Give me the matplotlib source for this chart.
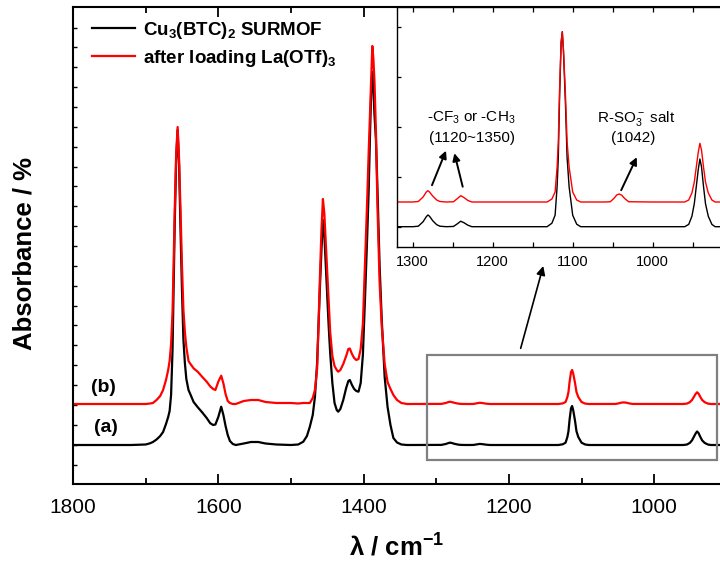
import numpy as np
import matplotlib
matplotlib.use("Agg")
import matplotlib.pyplot as plt
from matplotlib.patches import Rectangle
from matplotlib.ticker import MultipleLocator, FixedLocator, NullFormatter

plt.rcParams['font.family'] = ['Liberation Sans', 'DejaVu Sans']
plt.rcParams['mathtext.fontset'] = 'custom'
plt.rcParams['mathtext.rm'] = 'Liberation Sans'
plt.rcParams['mathtext.it'] = 'Liberation Sans:italic'
plt.rcParams['mathtext.bf'] = 'Liberation Sans:bold'

# ---------------- data ----------------
wavenumber = [
    1800, 1760, 1720, 1700, 1694, 1690, 1685, 1680, 1676, 1672,
    1669, 1667, 1665, 1663, 1661.5, 1660, 1658, 1656, 1654, 1652,
    1650, 1648, 1646, 1644, 1641, 1639, 1634, 1628, 1622, 1616,
    1611, 1607, 1604, 1600, 1596, 1593, 1590, 1587, 1584, 1580,
    1576, 1565, 1555, 1545, 1535, 1520, 1500, 1490, 1483, 1478,
    1474, 1470, 1467, 1464, 1462, 1460, 1458, 1456, 1454, 1452,
    1450, 1448, 1446, 1443, 1440, 1437, 1435, 1432, 1428, 1424,
    1421, 1419, 1416, 1413, 1410, 1407, 1404, 1401, 1398, 1395,
    1393, 1391, 1389.5, 1388, 1386.5, 1385, 1383, 1381, 1378, 1375,
    1371, 1367, 1363, 1359, 1354, 1348, 1340, 1320, 1300, 1293,
    1287, 1283, 1281, 1279, 1275, 1270, 1266, 1258, 1249, 1244,
    1240, 1236, 1231, 1226, 1200, 1150, 1132, 1126, 1122, 1119.5,
    1118, 1116.5, 1114.5, 1113, 1111.5, 1109, 1107, 1104.5, 1100, 1095,
    1090, 1060, 1053, 1048, 1045, 1042, 1039, 1035, 1030, 1000,
    960, 955, 951, 948, 945.5, 943, 941, 939, 936.5, 934,
    930.5, 926, 922, 885]

absorb_surmof = [
    0, 0, 0, 0.5, 1.7, 3, 5.5, 9, 13, 21,
    28, 34, 50, 95, 155, 220, 285, 315, 280, 215,
    155, 105, 82, 66, 55, 51.7, 43, 37.5, 32.5, 27,
    21.7, 20, 20.5, 28, 38.3, 30, 19, 10, 4, 1,
    0, 1.5, 3, 3, 1.5, 0.5, 0, 0.5, 3.3, 9,
    18.3, 30, 48, 82, 122, 160, 195, 225, 210, 178,
    148, 118, 92, 62, 42, 35, 33.3, 36, 45, 57,
    64, 65, 60, 56, 54, 53.3, 62, 90, 148, 210,
    255, 315, 355, 373, 355, 330, 305, 258, 180, 125,
    68, 38, 20, 7, 2.5, 0.5, 0, 0, 0, 0.1,
    1.0, 2.0, 2.34, 2.1, 1.2, 0.4, 0.1, 0, 0.05, 0.6,
    1.1, 0.8, 0.3, 0, 0, 0, 0, 0.7, 2.3, 8.0,
    13.8, 25.2, 36.7, 39, 34.9, 24.3, 13.8, 8.0, 2.3, 0.5,
    0, 0, 0, 0, 0, 0, 0, 0, 0, 0,
    0, 0.46, 2.08, 4.6, 8.07, 11.5, 13.54, 12.0, 8.07, 4.6,
    2.08, 0.46, 0, 0]

absorb_loaded = [
    0, 0, 0, 0, 0.5, 1, 4, 8, 14, 24,
    34, 43, 60, 92, 140, 194, 250, 277, 245, 194,
    138, 94, 72, 57, 43, 40.7, 35.7, 32, 27, 22.3,
    17.5, 15, 14, 22.3, 28.3, 20.7, 10, 3, 1, 0,
    0, 3, 4, 4, 2, 1, 1, 0.5, 1, 1,
    1, 6, 14, 35, 80, 130, 174, 205, 190, 160,
    130, 100, 72, 48, 38, 34, 32.3, 34, 40, 48,
    55, 55.5, 50, 46, 44, 45, 55, 80, 141, 205,
    252, 295, 330, 358, 345, 322, 272, 200, 122, 78,
    40, 22, 15, 9, 4, 1, 0, 0, 0, 0.1,
    1.0, 2.0, 2.26, 2.0, 1.2, 0.4, 0.1, 0, 0.05, 0.7,
    1.26, 0.9, 0.3, 0, 0, 0, 0, 0.6, 2, 7,
    12, 22, 32, 34, 30.4, 21.2, 12, 7, 2, 0.4,
    0, 0, 0.05, 0.8, 1.4, 1.6, 1.4, 0.7, 0.05, 0,
    0, 0.4, 1.8, 4, 7, 10, 11.74, 10.4, 7, 4,
    1.8, 0.4, 0, 0]

series_labels = [r'Cu$_\mathbf{3}$(BTC)$_\mathbf{2}$ SURMOF',
                 r'after loading La(OTf)$_\mathbf{3}$']
curve_tags = ['(a)', '(b)']
main_xticks = [1800, 1600, 1400, 1200, 1000]
inset_xticks = [1300, 1200, 1100, 1000]

wn = np.array(wavenumber)
a_black = np.array(absorb_surmof)
a_red = np.array(absorb_loaded)

# ---------------- figure ----------------
W, H = 720, 567
fig = plt.figure(figsize=(W / 100, H / 100), dpi=100)

def fx(px):
    return px / W

def fy(py):
    return 1 - py / H

# main axes (right part cropped by figure edge)
ax_l, ax_r, ax_t, ax_b = 73, 740, 7, 484
ax = fig.add_axes([fx(ax_l), fy(ax_b), fx(ax_r - ax_l), (ax_b - ax_t) / H])
x_right = 1800 - (ax_r - ax_l) * (200 / 145.3)
ax.set_xlim(1800, x_right)
ax.set_ylim(0, 477)

off_black, off_red = 39, 80
ax.plot(wn, a_black + off_black, color='black', lw=1.6, label=series_labels[0])
ax.plot(wn, a_red + off_red, color='#ff0000', lw=1.6, label=series_labels[1])

for s in ax.spines.values():
    s.set_linewidth(1.5)
ax.spines['right'].set_visible(False)
ax.xaxis.set_major_locator(FixedLocator(main_xticks))
ax.xaxis.set_minor_locator(MultipleLocator(100))
ax.tick_params(axis='x', which='major', direction='in', length=7, width=1.3,
               top=True, labelsize=15, pad=10)
ax.tick_params(axis='x', which='minor', direction='in', length=4, width=1.3, top=True)
ax.set_yticks(np.arange(19.5, 470, 19.86))
ax.yaxis.set_major_formatter(NullFormatter())
ax.tick_params(axis='y', which='major', direction='in', length=3, width=1.0,
               left=True, right=False)

ax.text(1775, 96, curve_tags[1], fontsize=14, fontweight='bold', ha='left', va='center')
ax.text(1771, 56, curve_tags[0], fontsize=14, fontweight='bold', ha='left', va='center')

leg = ax.legend(loc='upper left', bbox_to_anchor=(fx(92), fy(20)),
                bbox_transform=fig.transFigure, frameon=False,
                prop={'size': 13.5, 'weight': 'bold'}, handlelength=2.3,
                handletextpad=0.4, labelspacing=0.36, borderpad=0,
                borderaxespad=0)
for ln in leg.get_lines():
    ln.set_linewidth(1.6)

# grey rectangle marking the zoomed region
ax.add_patch(Rectangle((1312.8, 24), 913.6 - 1312.8, 105, fill=False,
                       edgecolor='#808080', lw=1.6, zorder=5))
ax.annotate('', xy=(1152.7, 218), xytext=(1183.8, 135.7),
            arrowprops=dict(arrowstyle='-|>', color='black', lw=1.2,
                            mutation_scale=13, shrinkA=0, shrinkB=0),
            annotation_clip=False)

# ---------------- inset ----------------
in_l, in_r, in_t, in_b = 397.3, 740, 7, 246.7
axi = fig.add_axes([fx(in_l), fy(in_b), fx(in_r - in_l), (in_b - in_t) / H])
axi.set_facecolor('white')
in_xl = 1300 + (412.7 - in_l) * 1.25
in_xr = 1000 - (in_r - 652.7) * 1.25
axi.set_xlim(in_xl, in_xr)
axi.set_ylim(-4, -4 + (in_b - in_t) / 5)
in_off_black, in_off_red = 0, 4.94
axi.plot(wn, a_black + in_off_black, color='black', lw=1.0)
axi.plot(wn, a_red + in_off_red, color='#ff0000', lw=1.0)
for s in axi.spines.values():
    s.set_linewidth(1.0)
axi.spines['right'].set_visible(False)
axi.xaxis.set_major_locator(FixedLocator(inset_xticks))
axi.xaxis.set_minor_locator(MultipleLocator(50))
axi.tick_params(axis='x', which='both', direction='in', length=3.5, width=0.9,
                top=True, labelsize=10.5, pad=6)
axi.set_yticks([0, 10, 20, 30, 40])
axi.yaxis.set_major_formatter(NullFormatter())
axi.tick_params(axis='y', direction='in', length=3, width=0.9)

axi.text(1227, 21.7, r'-CF$_3$ or -CH$_3$', fontsize=11, ha='center', va='center')
axi.text(1226, 17.7, '(1120~1350)', fontsize=11, ha='center', va='center')
axi.text(1021, 21.7, r'R-SO$_3^-$ salt', fontsize=11, ha='center', va='center')
axi.text(1024.6, 17.7, '(1042)', fontsize=11, ha='center', va='center')
arrow_kw = dict(arrowstyle='-|>', color='black', lw=1.4, mutation_scale=11,
                shrinkA=0, shrinkB=0)
axi.annotate('', xy=(1258.4, 15.2), xytext=(1275.9, 8.3), arrowprops=arrow_kw)
axi.annotate('', xy=(1247.9, 14.7), xytext=(1237.5, 8.0), arrowprops=arrow_kw)
axi.annotate('', xy=(1019.9, 13.9), xytext=(1039.4, 7.3), arrowprops=arrow_kw)

# ---------------- axis titles ----------------
fig.text(fx(25), fy(254), 'Absorbance / %', rotation=90, fontsize=18.5,
         fontweight='bold', ha='center', va='center')
fig.text(fx(397), fy(548), r'λ / cm$^{\mathbf{-1}}$', fontsize=18.5,
         fontweight='bold', ha='center', va='center')

fig.savefig('out.png', dpi=100)
